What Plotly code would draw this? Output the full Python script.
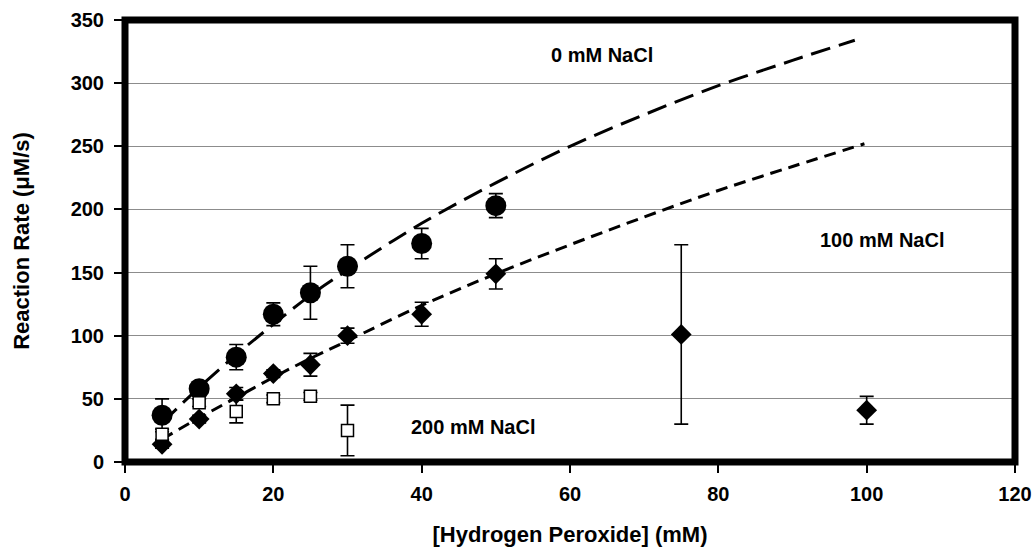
import plotly.graph_objects as go

x_0mM = [5, 10, 15, 20, 25, 30, 40, 50]
y_0mM = [37, 58, 83, 117, 134, 155, 173, 203]
e_0mM = [13, 4, 10, 9, 21, 17, 12, 9.5]

x_100mM = [5, 10, 15, 20, 25, 30, 40, 50, 75, 100]
y_100mM = [14, 34, 54, 70, 77, 100, 117, 149, 101, 41]
e_100mM = [3, 3, 5, 3, 9, 6, 9.5, 12, 71, 11]

x_200mM = [5, 10, 15, 20, 25, 30]
y_200mM = [22, 47, 40, 50, 52, 25]
e_200mM = [4, 3, 9, 3, 3, 20]

# Fitted curves
fit0_x = [5, 10, 15, 20, 25, 30, 40, 50, 60, 70, 80, 90, 98.4]
fit0_y = [31, 59, 85, 109, 132, 152, 189, 221, 250, 275, 298, 318, 334]
fit100_x = [5, 10, 15, 20, 25, 30, 40, 50, 60, 70, 80, 90, 99.7]
fit100_y = [18, 35, 51, 67, 82, 96, 124, 149, 172, 194, 215, 234, 252]

x_ticks = [0, 20, 40, 60, 80, 100, 120]
y_ticks = [0, 50, 100, 150, 200, 250, 300, 350]

labels = ["0 mM NaCl", "100 mM NaCl", "200 mM NaCl"]
label_x = [64.3, 102.1, 47]
label_y = [322, 176, 28]

FONT = "Liberation Sans, Arial, Helvetica, sans-serif"

fig = go.Figure()

fig.add_trace(go.Scatter(
    x=x_0mM, y=y_0mM, mode="markers", name="0 mM NaCl",
    marker=dict(symbol="circle", size=21, color="black"),
    error_y=dict(type="data", array=e_0mM, color="black", thickness=1.6, width=7),
))
fig.add_trace(go.Scatter(
    x=x_100mM, y=y_100mM, mode="markers", name="100 mM NaCl",
    marker=dict(symbol="diamond", size=16, color="black"),
    error_y=dict(type="data", array=e_100mM, color="black", thickness=1.6, width=7),
))
fig.add_trace(go.Scatter(
    x=fit0_x, y=fit0_y, mode="lines", name="fit 0 mM",
    line=dict(color="black", width=3, dash="20px,9px", shape="spline"),
))
fig.add_trace(go.Scatter(
    x=fit100_x, y=fit100_y, mode="lines", name="fit 100 mM",
    line=dict(color="black", width=3, dash="12px,7px", shape="spline"),
))
fig.add_trace(go.Scatter(
    x=x_200mM, y=y_200mM, mode="markers", name="200 mM NaCl",
    marker=dict(symbol="square", size=12, color="white",
                line=dict(color="black", width=1.5)),
    error_y=dict(type="data", array=e_200mM, color="black", thickness=1.6, width=7),
))

for t, lx, ly in zip(labels, label_x, label_y):
    fig.add_annotation(x=lx, y=ly, text=t, showarrow=False,
                       font=dict(family=FONT, size=20, color="black", weight="bold"))

fig.add_shape(type="rect", xref="paper", yref="paper", x0=0, x1=1, y0=0, y1=1,
              line=dict(color="black", width=7), layer="above")

fig.update_layout(
    width=1033, height=548,
    margin=dict(l=125, r=18, t=20, b=86, autoexpand=False),
    paper_bgcolor="white", plot_bgcolor="white",
    showlegend=False,
    font=dict(family=FONT, color="black", weight="bold"),
    xaxis=dict(
        range=[0, 120], tickvals=x_ticks, ticks="outside", ticklen=10, tickwidth=2,
        tickcolor="black", showgrid=False, zeroline=False, showline=False,
        automargin=False,
        tickfont=dict(family=FONT, size=20, color="black", weight="bold"),
        ticklabelstandoff=4,
        title=dict(text="[Hydrogen Peroxide] (mM)", standoff=22,
                   font=dict(family=FONT, size=22, color="black", weight="bold")),
    ),
    yaxis=dict(
        range=[0, 350], tickvals=y_ticks, ticks="outside", ticklen=10, tickwidth=2,
        tickcolor="black", showgrid=True, gridcolor="#8c8c8c", gridwidth=1.2,
        zeroline=False, showline=False, automargin=False,
        tickfont=dict(family=FONT, size=20, color="black", weight="bold"),
        ticklabelstandoff=6,
        title=dict(text="Reaction Rate (μM/s)", standoff=34,
                   font=dict(family=FONT, size=22, color="black", weight="bold")),
    ),
)

# Remove the default page margin so the figure fills the window exactly.
fig.write_html(
    "out.html",
    config={"displayModeBar": False},
    post_script="document.body.style.margin='0';document.body.style.overflow='hidden';",
)
